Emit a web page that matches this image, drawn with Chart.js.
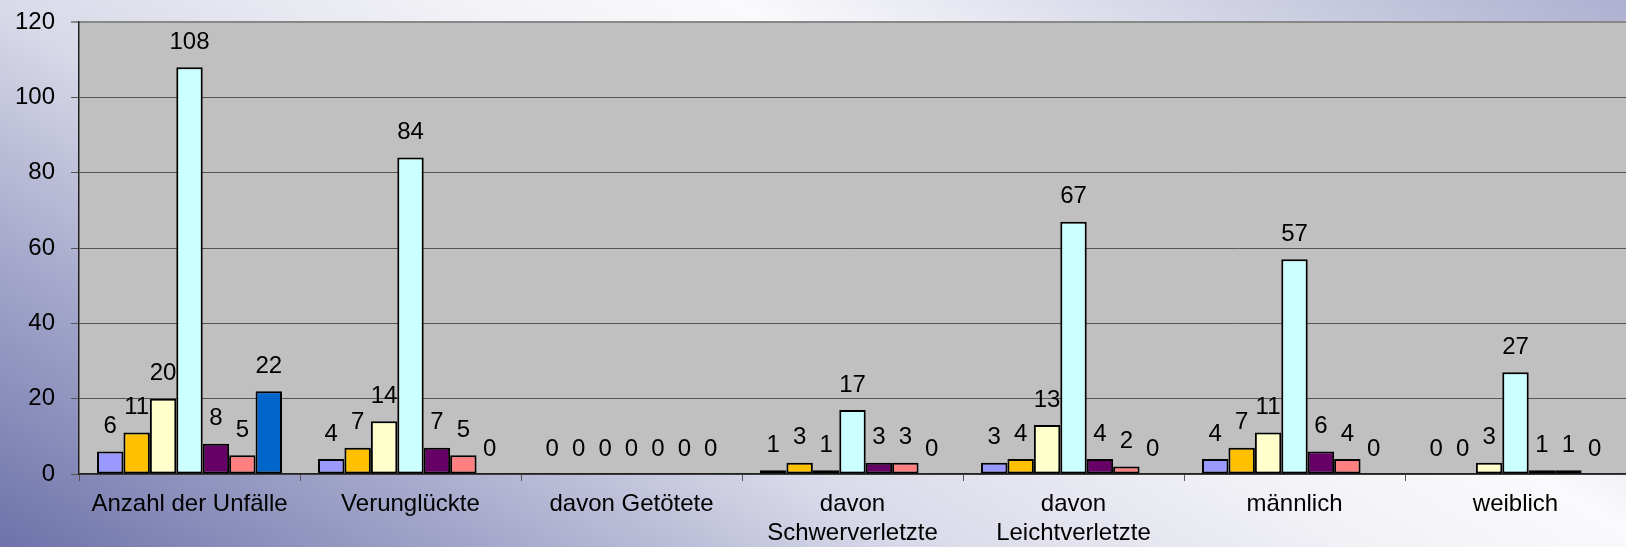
<!DOCTYPE html>
<html>
<head>
<meta charset="utf-8">
<script src="https://cdn.jsdelivr.net/npm/chart.js@4/dist/chart.umd.min.js"></script>
<style>
    html, body { margin: 0; padding: 0; }
    #wrap { width: 1626px; height: 547px; }
</style>
</head>
<body>
<div id="wrap"><canvas id="unfallChart" width="1626" height="547"></canvas></div>
<script>
const categories = [
    "Anzahl der Unfälle",
    "Verunglückte",
    "davon Getötete",
    ["davon", "Schwerverletzte"],
    ["davon", "Leichtverletzte"],
    "männlich",
    "weiblich",
];

const serie1 = [6, 4, 0, 1, 3, 4, 0];
const serie2 = [11, 7, 0, 3, 4, 7, 0];
const serie3 = [20, 14, 0, 1, 13, 11, 3];
const serie4 = [108, 84, 0, 17, 67, 57, 27];
const serie5 = [8, 7, 0, 3, 4, 6, 1];
const serie6 = [5, 5, 0, 3, 2, 4, 1];
const serie7 = [22, 0, 0, 0, 0, 0, 0];

const barColors = ["#9999FF", "#FFC000", "#FFFFCC", "#CCFFFF", "#660066", "#FF8080", "#0066CC"];
const yTicks = [0, 20, 40, 60, 80, 100, 120];

const fontFamily = "'Liberation Sans', Arial, sans-serif";

// hintergrund: verlauf + graue zeichenflaeche
const backgroundPlugin = {
    id: "background",
    beforeDraw: (chart) => {
        const ctx = chart.ctx;
        const w = chart.width;
        const h = chart.height;
        const grad = ctx.createLinearGradient(279, 712, 940, -405);
        grad.addColorStop(0, "#6d73aa");
        grad.addColorStop(0.2, "#a6a9cb");
        grad.addColorStop(0.36, "#d9dae9");
        grad.addColorStop(0.55, "#f3f3f7");
        grad.addColorStop(0.65, "#fafafc");
        grad.addColorStop(1, "#adb0d0");
        ctx.save();
        ctx.fillStyle = grad;
        ctx.fillRect(0, 0, w, h);
        const a = chart.chartArea;
        ctx.fillStyle = "#C0C0C0";
        ctx.fillRect(a.left, a.top, a.right - a.left, a.bottom - a.top);
        ctx.restore();
    },
};

// werte ueber den balken
const valueLabels = {
    id: "valueLabels",
    afterDatasetsDraw: (chart) => {
        const ctx = chart.ctx;
        ctx.save();
        ctx.font = `24px ${fontFamily}`;
        ctx.fillStyle = "#000000";
        ctx.textAlign = "center";
        ctx.textBaseline = "middle";
        chart.data.datasets.forEach((ds, i) => {
            const meta = chart.getDatasetMeta(i);
            meta.data.forEach((bar, j) => {
                ctx.fillText(String(ds.data[j]), bar.x, bar.y - 25);
            });
        });
        ctx.restore();
    },
};

const series = [serie1, serie2, serie3, serie4, serie5, serie6, serie7];

const ctxUnfall = document.getElementById("unfallChart").getContext("2d");

new Chart(ctxUnfall, {
    type: "bar",
    data: {
        labels: categories,
        datasets: series.map((s, i) => ({
            label: `Reihe ${i + 1}`,
            data: s,
            backgroundColor: barColors[i],
            borderColor: "#000000",
            borderWidth: 2,
            borderSkipped: false,
            categoryPercentage: 0.837,
            barPercentage: 1,
        })),
    },
    options: {
        responsive: false,
        animation: false,
        layout: {
            padding: { top: 22, right: 0, left: 0, bottom: 0 },
        },
        scales: {
            x: {
                grid: {
                    drawOnChartArea: false,
                    drawTicks: true,
                    tickLength: 7,
                    color: "#555555",
                },
                border: { color: "#222222", width: 1.5 },
                ticks: {
                    color: "#000000",
                    font: { family: fontFamily, size: 24 },
                    padding: 9,
                    maxRotation: 0,
                    autoSkip: false,
                },
                afterFit: (axis) => {
                    axis.height = 73;
                    axis.paddingLeft = 0;
                    axis.paddingRight = 0;
                },
            },
            y: {
                min: 0,
                max: 120,
                afterBuildTicks: (axis) => {
                    axis.ticks = yTicks.map((v) => ({ value: v }));
                },
                grid: {
                    color: (c) => (c.tick && c.tick.value === 120 ? "#888888" : "#555555"),
                    lineWidth: (c) => (c.tick && c.tick.value === 120 ? 2 : 1),
                    tickLength: 8,
                },
                border: { color: "#222222", width: 1.5 },
                ticks: {
                    color: "#000000",
                    font: { family: fontFamily, size: 24 },
                    padding: 16,
                },
                afterFit: (axis) => {
                    axis.width = 79;
                    axis.paddingTop = 0;
                    axis.paddingBottom = 0;
                },
            },
        },
        plugins: {
            legend: { display: false },
            tooltip: { enabled: false },
        },
    },
    plugins: [backgroundPlugin, valueLabels],
});
</script>
</body>
</html>
